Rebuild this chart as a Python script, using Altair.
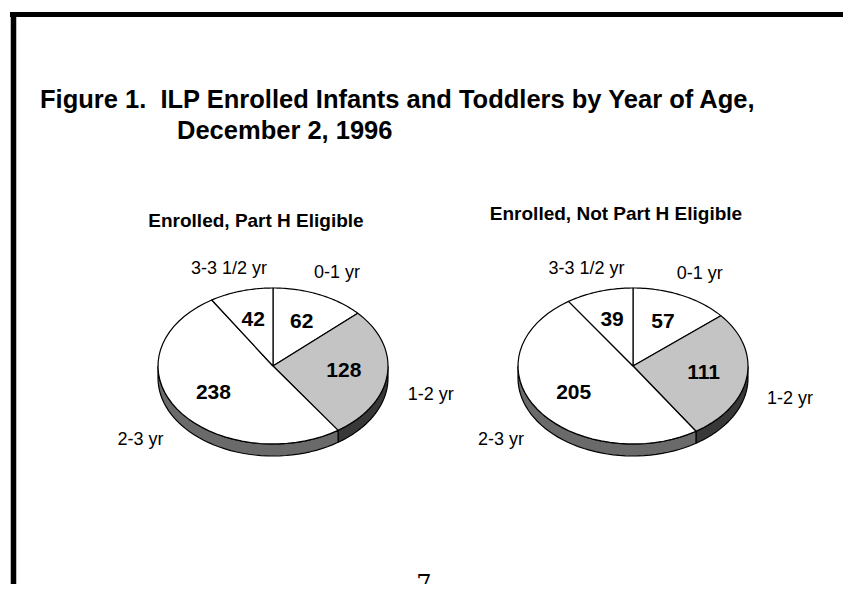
import altair as alt
import pandas as pd

# ---- data ----
categories = ["0-1 yr", "1-2 yr", "2-3 yr", "3-3 1/2 yr"]
part_h_eligible = [62, 128, 238, 42]
not_part_h_eligible = [57, 111, 205, 39]
panel_titles = ["Enrolled, Part H Eligible", "Enrolled, Not Part H Eligible"]
title_lines = ["Figure 1.\u00a0 ILP Enrolled Infants and Toddlers by Year of Age,", "December 2, 1996"]
page_number = "7"

# ---- geometry / style constants ----
W, H = 835, 576
RX, RY, DEPTH = 115, 78, 12
CX_EXPR = "datum.pie == 0 ? 273 : 633"
CY_EXPR = "366"
FONT = "Liberation Sans"

rows = []
for p, vals in enumerate([part_h_eligible, not_part_h_eligible]):
    for i, (c, v) in enumerate(zip(categories, vals)):
        rows.append({"pie": p, "cat": c, "value": v, "idx": i})
df = pd.DataFrame(rows)

hdr = pd.DataFrame({"pie": [0, 1], "label": panel_titles})
ttl = pd.DataFrame({"line": [0, 1], "label": title_lines})
pg = pd.DataFrame({"label": [page_number]})

X = lambda f: alt.X(f, type="quantitative", scale=alt.Scale(domain=[8, 8 + W], nice=False, zero=False), axis=None)
Y = lambda f: alt.Y(f, type="quantitative", scale=alt.Scale(domain=[8 + H, 8], nice=False, zero=False), axis=None)

base = (
    alt.Chart(df)
    .transform_joinaggregate(total="sum(value)", groupby=["pie"])
    .transform_window(cum="sum(value)", sort=[alt.SortField("idx")], groupby=["pie"], frame=[None, 0])
    .transform_calculate(
        a0="2*PI*(datum.cum - datum.value)/datum.total",
        a1="2*PI*datum.cum/datum.total",
        cx=CX_EXPR,
        cy=CY_EXPR,
    )
    .transform_calculate(mid="(datum.a0 + datum.a1)/2")
)

# side (depth) of the 3-D pie
side = (
    base.transform_calculate(s0="max(datum.a0, PI/2)", s1="min(datum.a1, 3*PI/2)")
    .transform_filter("datum.s1 > datum.s0")
    .transform_calculate(k="sequence(0, 83)")
    .transform_flatten(["k"])
    .transform_calculate(
        u="datum.k <= 40 ? datum.k/40 : (datum.k <= 81 ? (81 - datum.k)/40 : 0)",
        off=f"(datum.k > 40 && datum.k <= 81) ? {DEPTH} : 0",
    )
    .transform_calculate(ang="datum.s0 + (datum.s1 - datum.s0)*datum.u")
    .transform_calculate(
        px=f"datum.cx + {RX}*sin(datum.ang)",
        py=f"datum.cy - {RY}*cos(datum.ang) + datum.off",
        fc="datum.cat == '1-2 yr' ? '#383838' : '#6a6a6a'",
    )
    .mark_line(filled=True, stroke="black", strokeWidth=1.2, strokeJoin="round")
    .encode(
        x=X("px"), y=Y("py"), order=alt.Order("k:Q"),
        color=alt.Color("fc:N", scale=None),
        detail=["pie:N", "cat:N"],
    )
)

# top face slices
top = (
    base.transform_calculate(k="sequence(0, 43)")
    .transform_flatten(["k"])
    .transform_calculate(ang="datum.a0 + (datum.a1 - datum.a0)*clamp((datum.k - 1)/40, 0, 1)")
    .transform_calculate(
        px=f"(datum.k == 0 || datum.k == 42) ? datum.cx : datum.cx + {RX}*sin(datum.ang)",
        py=f"(datum.k == 0 || datum.k == 42) ? datum.cy : datum.cy - {RY}*cos(datum.ang)",
        fc="datum.cat == '1-2 yr' ? '#c4c4c4' : '#ffffff'",
    )
    .mark_line(filled=True, stroke="black", strokeWidth=1.2, strokeJoin="round")
    .encode(
        x=X("px"), y=Y("py"), order=alt.Order("k:Q"),
        color=alt.Color("fc:N", scale=None),
        detail=["pie:N", "cat:N"],
    )
)

values = (
    base.transform_calculate(
        px=f"datum.cx + 0.62*{RX}*sin(datum.mid)",
        py=f"datum.cy - 0.62*{RY}*cos(datum.mid)",
    )
    .mark_text(font=FONT, fontSize=21, fontWeight="bold", color="black")
    .encode(x=X("px"), y=Y("py"), text=alt.Text("value:Q"))
)

cats = (
    base.transform_calculate(
        px=f"datum.cx + 1.38*{RX}*sin(datum.mid)",
        py=f"datum.cy - 1.3*{RY}*cos(datum.mid) + (cos(datum.mid) < 0 ? 18 : 0)",
    )
    .mark_text(font=FONT, fontSize=18, color="black")
    .encode(x=X("px"), y=Y("py"), text=alt.Text("cat:N"))
)

headers = (
    alt.Chart(hdr)
    .transform_calculate(cx=CX_EXPR)
    .transform_calculate(px="datum.cx - 17", py="datum.pie == 0 ? 221 : 214")
    .mark_text(font=FONT, fontSize=19, fontWeight="bold", color="black")
    .encode(x=X("px"), y=Y("py"), text="label:N")
)

titles = (
    alt.Chart(ttl)
    .transform_calculate(px="datum.line == 0 ? 40 : 177", py="datum.line == 0 ? 100 : 131")
    .mark_text(font=FONT, fontSize=25.5, fontWeight="bold", color="black", align="left")
    .encode(x=X("px"), y=Y("py"), text="label:N")
)

pagenum = (
    alt.Chart(pg)
    .mark_text(font="DejaVu Serif", fontSize=24, color="black", baseline="alphabetic")
    .encode(x=alt.value(416), y=alt.value(584), text="label:N")
)

border_top = alt.Chart(pg).mark_rule(color="black", strokeWidth=5).encode(
    x=alt.value(2), x2=alt.value(W), y=alt.value(6.5)
)
border_left = alt.Chart(pg).mark_rule(color="black", strokeWidth=5.5).encode(
    x=alt.value(5.5), y=alt.value(4), y2=alt.value(H)
)

chart = (
    alt.layer(side, top, values, cats, headers, titles, pagenum, border_top, border_left)
    .properties(width=W, height=H, padding=0, autosize=alt.AutoSizeParams(type="none"))
    .configure_view(stroke=None)
)

chart.save("out.html", embed_options={"renderer": "svg", "actions": False})
